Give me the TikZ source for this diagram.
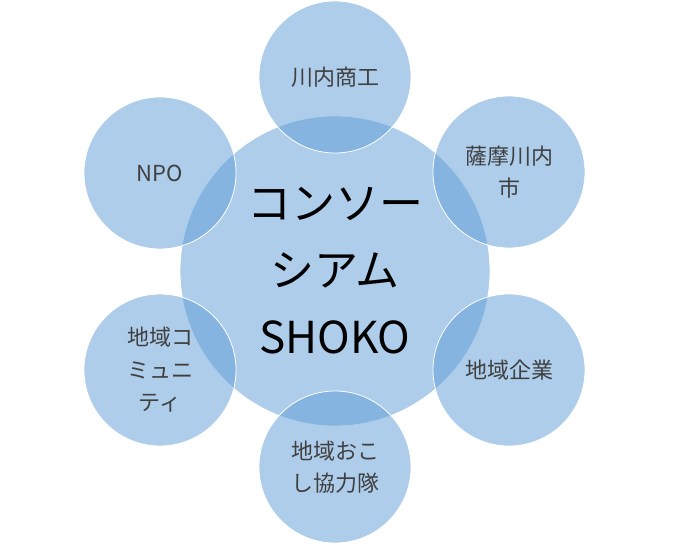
\documentclass[tikz,border=0pt]{standalone}
\usepackage{fontspec}
\setmainfont{Noto Sans CJK JP}
\usepackage{xcolor}
\usepackage{tikz}
\definecolor{venn}{HTML}{5B9BD5}
\definecolor{labelgray}{HTML}{404040}

\begin{document}
\begin{tikzpicture}[x=1pt,y=-1pt,
	part/.style={circle,fill=venn,fill opacity=0.5,text opacity=1,draw=white,line width=0.8pt,
		inner sep=0pt,minimum size=152pt,align=center,text=labelgray,font=\fontsize{22}{32.5}\selectfont},
	core/.style={part,minimum size=310pt,text=black,font=\fontsize{44}{67}\selectfont}]
	\useasboundingbox (0,0) rectangle (697,545);
	%
	\node[core] (C) at (335,271) {コンソー\\シアム\\SHOKO};
	%
	\node[part] (T) at (335,77) {川内商工};
	\node[part] (TR) at (509,172) {薩摩川内\\市};
	\node[part] (BR) at (509,370) {地域企業};
	\node[part] (B) at (335,467) {地域おこ\\し協力隊};
	\node[part] (BL) at (160,370) {地域コ\\ミュニ\\ティ};
	\node[part] (TL) at (160,173) {NPO};
\end{tikzpicture}
\end{document}
